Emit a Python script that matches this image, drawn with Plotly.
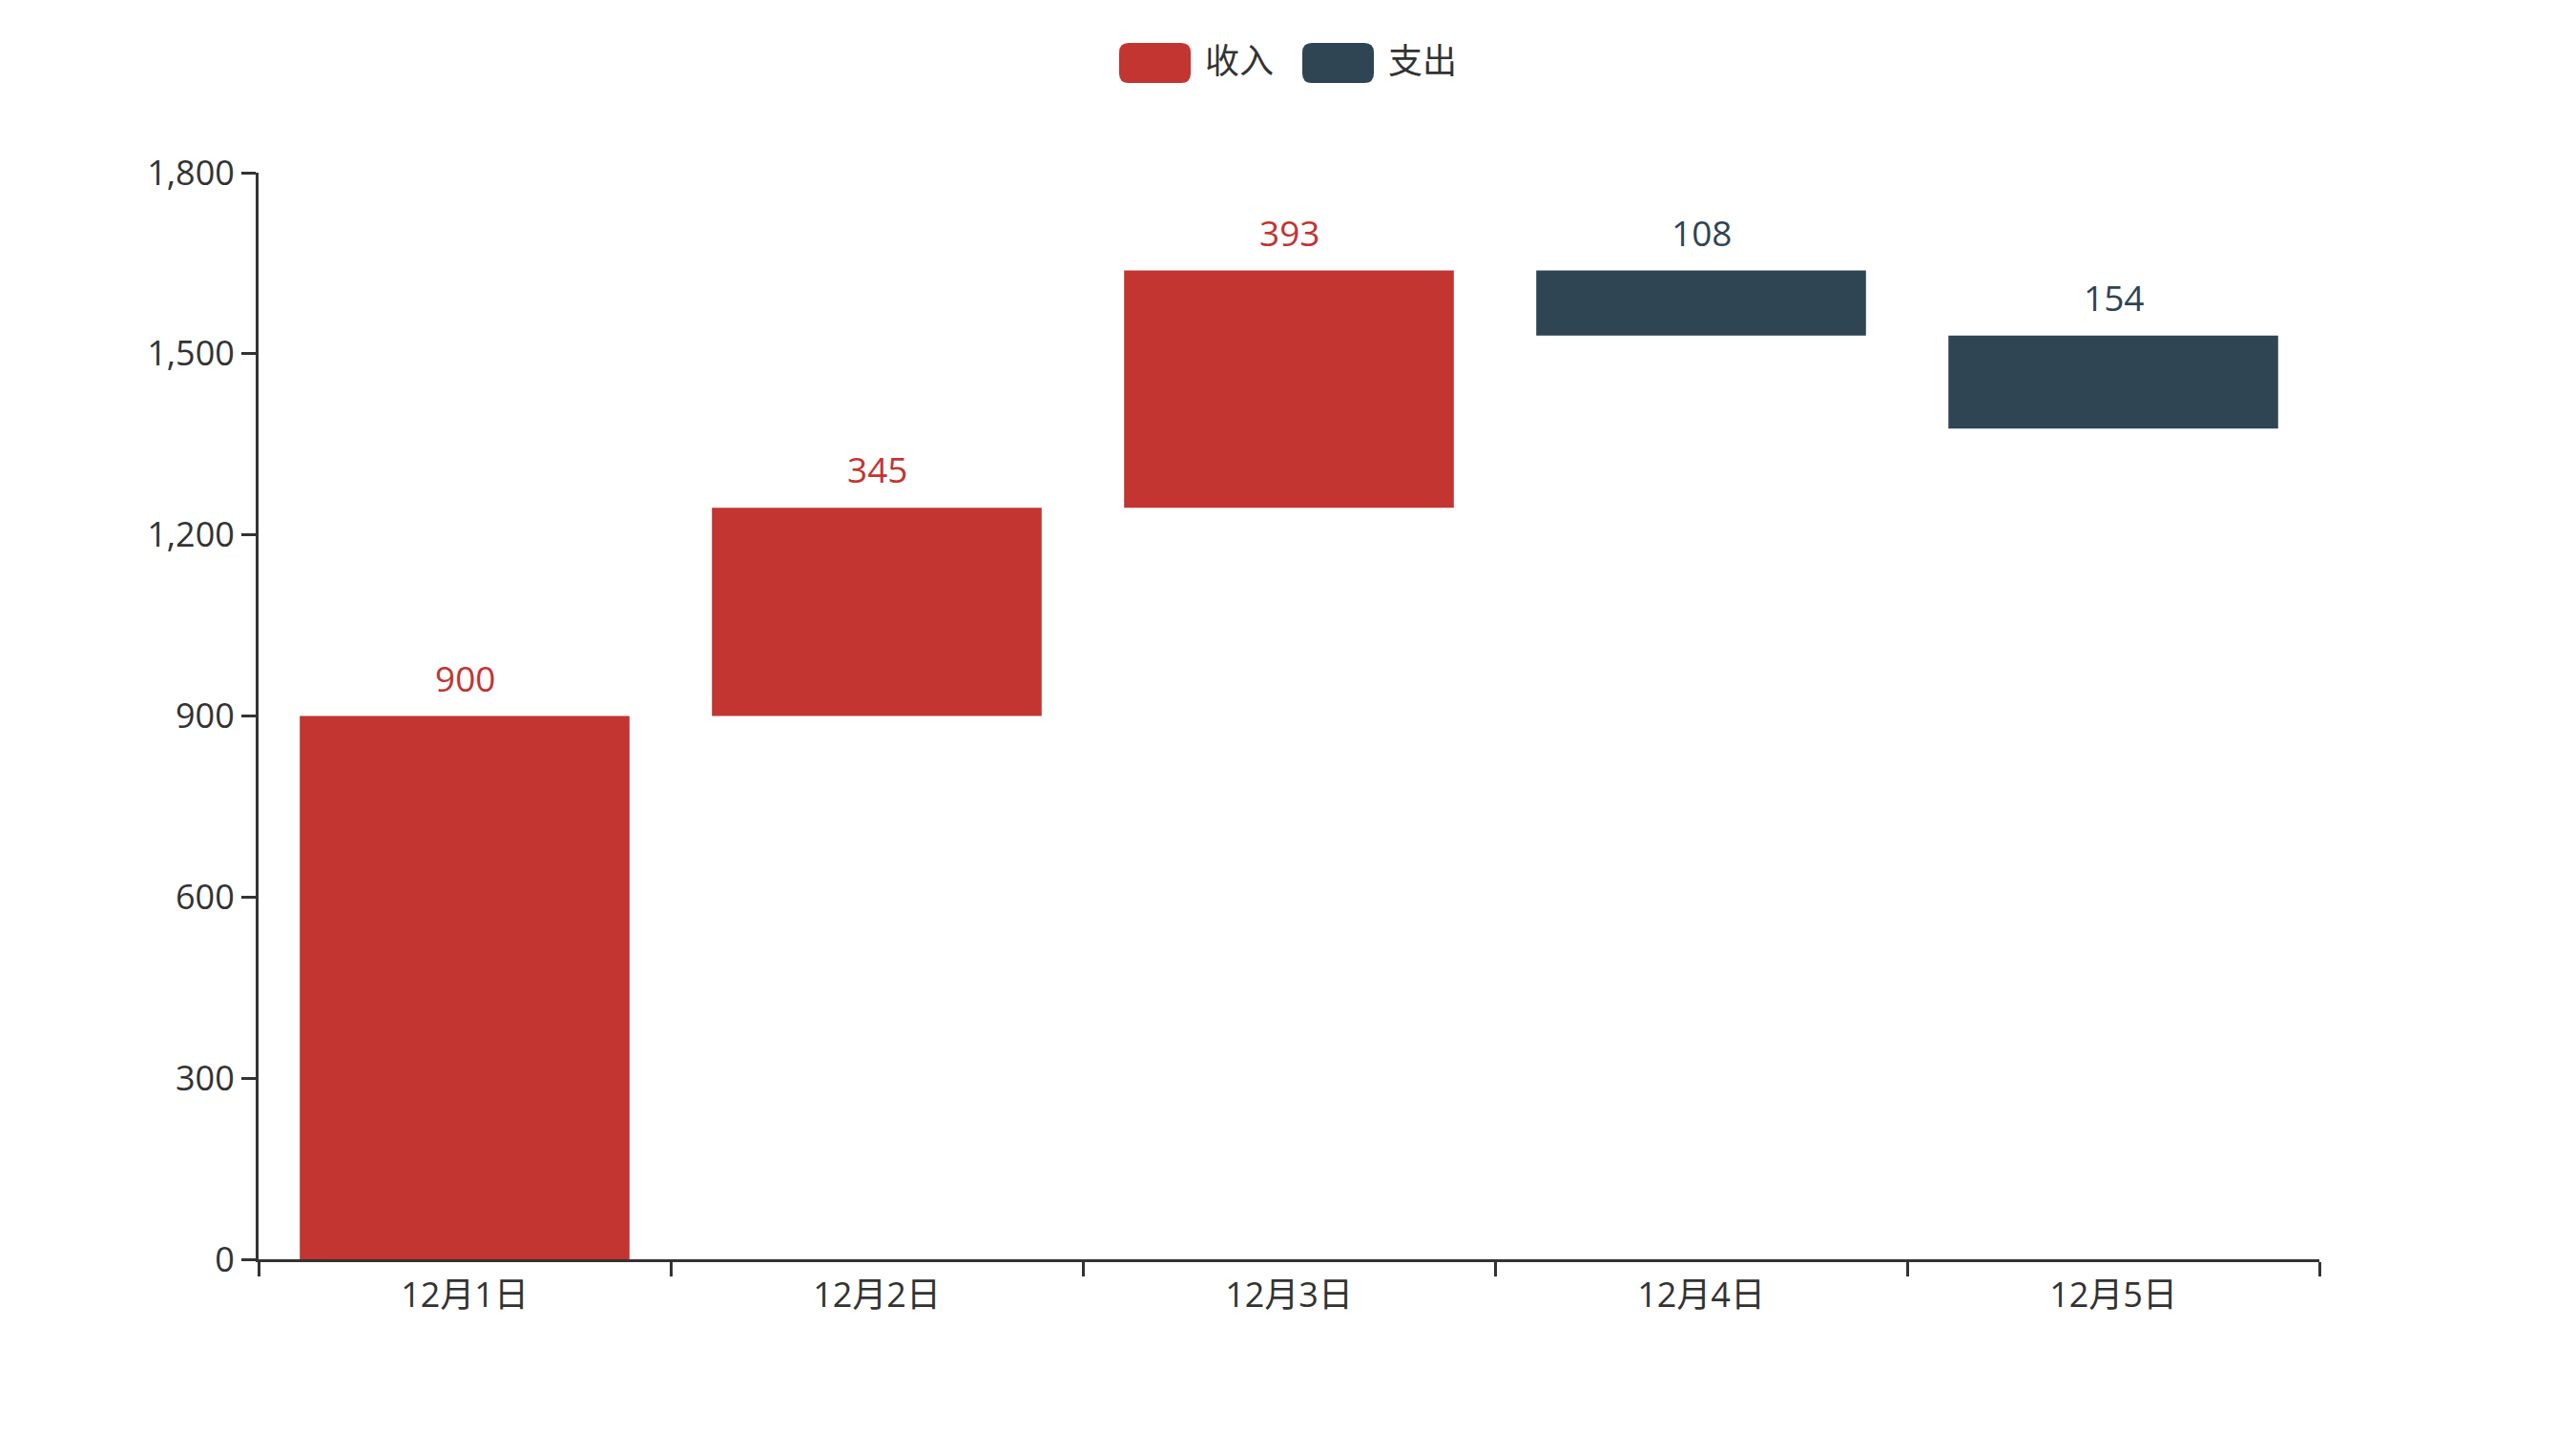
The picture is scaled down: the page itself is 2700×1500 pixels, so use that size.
import plotly.graph_objects as go

categories = ["12月1日", "12月2日", "12月3日", "12月4日", "12月5日"]
income = [900, 345, 393, None, None]
expense = [None, None, None, 108, 154]
series_names = ["收入", "支出"]
y_ticks = [0, 300, 600, 900, 1200, 1500, 1800]

RED = "#c23531"
DARK = "#2f4554"
TXT = "#333333"
FONT = "Open Sans, Noto Sans CJK SC"

# running totals for waterfall bases
inc_base, exp_base = [], []
total = 0
for i, e in zip(income, expense):
    if i is not None:
        inc_base.append(total)
        exp_base.append(None)
        total += i
    else:
        total -= e
        exp_base.append(total)
        inc_base.append(None)

W, H = 2700, 1500
L, R, T, B = 271, 269, 181, 180
pw, ph = W - L - R, H - T - B

def px(x):
    return (x - L) / pw

def py(y):
    return 1 - (y - T) / ph

fig = go.Figure()
fig.add_trace(go.Bar(x=categories, y=income, base=inc_base, name=series_names[0],
                     marker=dict(color=RED, line=dict(width=0))))
fig.add_trace(go.Bar(x=categories, y=expense, base=exp_base, name=series_names[1],
                     marker=dict(color=DARK, line=dict(width=0))))

annotations = []
for c, v, b in zip(categories, income, inc_base):
    if v is not None:
        annotations.append(dict(x=c, y=b + v, text=str(v), showarrow=False,
                                yanchor="bottom", yshift=13,
                                font=dict(family=FONT, size=37, color=RED)))
for c, v, b in zip(categories, expense, exp_base):
    if v is not None:
        annotations.append(dict(x=c, y=b + v, text=str(v), showarrow=False,
                                yanchor="bottom", yshift=13,
                                font=dict(family=FONT, size=37, color=DARK)))

# custom legend
def rrect(x0, y0, x1, y1, r):
    return (f"M {px(x0+r)} {py(y0)} L {px(x1-r)} {py(y0)} Q {px(x1)} {py(y0)} {px(x1)} {py(y0+r)} "
            f"L {px(x1)} {py(y1-r)} Q {px(x1)} {py(y1)} {px(x1-r)} {py(y1)} "
            f"L {px(x0+r)} {py(y1)} Q {px(x0)} {py(y1)} {px(x0)} {py(y1-r)} "
            f"L {px(x0)} {py(y0+r)} Q {px(x0)} {py(y0)} {px(x0+r)} {py(y0)} Z")

shapes = []
legend_items = [(1173, RED, series_names[0]), (1365, DARK, series_names[1])]
for x0, col, name in legend_items:
    shapes.append(dict(type="path", xref="paper", yref="paper",
                       path=rrect(x0, 45, x0 + 75, 87, 10),
                       fillcolor=col, line=dict(width=0)))
    annotations.append(dict(x=px(x0 + 88), y=py(63), xref="paper", yref="paper",
                            text=name, showarrow=False, xanchor="left", yanchor="middle",
                            font=dict(family=FONT, size=36, color=TXT)))

fig.update_layout(
    width=W, height=H,
    margin=dict(l=L, r=R, t=T, b=B),
    paper_bgcolor="white", plot_bgcolor="white",
    barmode="overlay", bargap=0.2,
    showlegend=False,
    font=dict(family=FONT, size=36, color=TXT),
    shapes=shapes, annotations=annotations,
    xaxis=dict(showline=True, linecolor=TXT, linewidth=3, ticks="outside",
               tickson="boundaries", ticklen=15, tickwidth=3, tickcolor=TXT,
               showgrid=False, ticklabelstandoff=4,
               tickfont=dict(family=FONT, size=36, color=TXT)),
    yaxis=dict(range=[0, 1800], tickvals=y_ticks, tickformat=",", showline=True,
               linecolor=TXT, linewidth=3, ticks="outside", ticklen=15, tickwidth=3,
               tickcolor=TXT, showgrid=False, zeroline=False,
               tickfont=dict(family=FONT, size=36, color=TXT)),
)

fig.write_html("out.html")
